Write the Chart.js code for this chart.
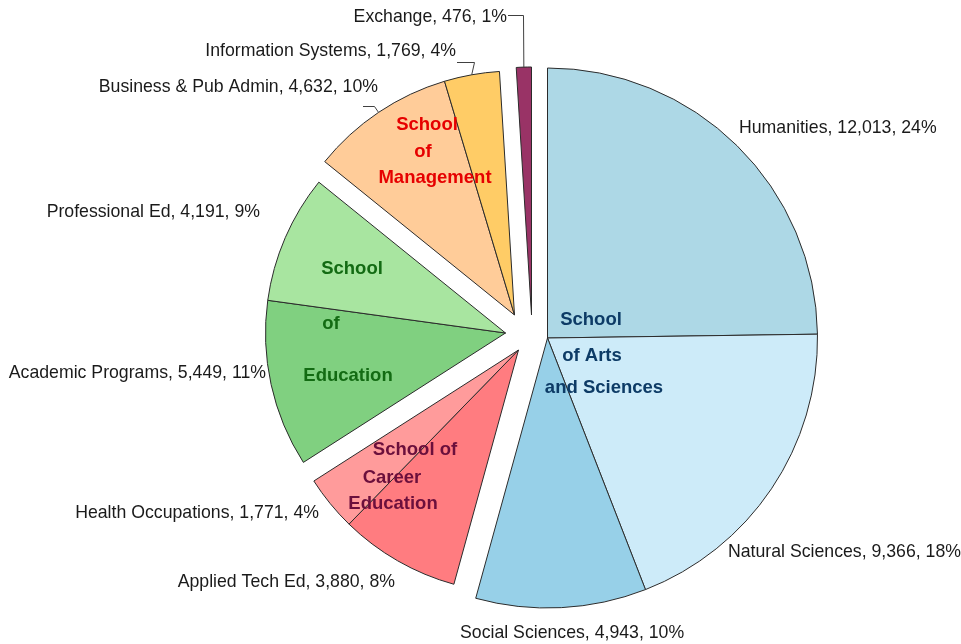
<!DOCTYPE html>
<html>
<head>
<meta charset="utf-8">
<title>Enrollment by School</title>
<script src="https://cdn.jsdelivr.net/npm/chart.js@4.4.1/dist/chart.umd.min.js"></script>
<style>
    html, body { margin: 0; padding: 0; background: #fff; }
    .chart-box { width: 961px; height: 644px; position: relative; }
</style>
</head>
<body>
<div class="chart-box">
    <canvas id="enrollment-pie"></canvas>
</div>
<script>
// data
const categories = ['Humanities', 'Natural Sciences', 'Social Sciences', 'Applied Tech Ed', 'Health Occupations',
    'Academic Programs', 'Professional Ed', 'Business & Pub Admin', 'Information Systems', 'Exchange'];
const enrollment = [12013, 9366, 4943, 3880, 1771, 5449, 4191, 4632, 1769, 476];
const percents = [24, 18, 10, 8, 4, 11, 9, 10, 4, 1];
const schoolOf = [0, 0, 0, 1, 1, 2, 2, 3, 3, 4]; // which school each slice belongs to
const schoolTitles = [
    ['School', 'of Arts', 'and Sciences'],
    ['School of', 'Career', 'Education'],
    ['School', 'of', 'Education'],
    ['School', 'of', 'Management'],
    []
];

const sliceColors = ['#ADD8E6', '#CDEBF9', '#97D0E8', '#FF7C80', '#FF9B9B',
    '#80D080', '#A8E5A0', '#FFCC99', '#FFCC66', '#993366'];
const titleColors = ['#0D3B66', '#6B0F3C', '#136B13', '#E60000', '#000'];

// how far each school's group of slices is pulled out, and its radius
const groupShift = [
    { dx: 0, dy: 0, r: 270 },     // Arts and Sciences
    { dx: -29, dy: 12, r: 243 },  // Career Education
    { dx: -42, dy: -5, r: 240 },  // Education
    { dx: -33, dy: -23, r: 244 }, // Management
    { dx: -16, dy: -23, r: 248 }  // Exchange
];

// slice label placement (anchor x, middle y, alignment)
const labelPlace = [
    { x: 739, y: 128, align: 'left' },
    { x: 728, y: 552, align: 'left' },
    { x: 460, y: 633, align: 'left' },
    { x: 395, y: 582, align: 'right' },
    { x: 319, y: 513, align: 'right' },
    { x: 266, y: 373, align: 'right' },
    { x: 260, y: 212, align: 'right' },
    { x: 378, y: 87, align: 'right' },
    { x: 456, y: 51, align: 'right' },
    { x: 507, y: 17, align: 'right' }
];
// leader lines: start point, then elbow shift relative to the slice edge
const leaders = {
    7: { from: [363, 106], elbow: -5 },
    8: { from: [457, 62], elbow: 2 },
    9: { from: [508, 15], elbow: -1 }
};

// centre of each title line, per school
const titlePlace = [
    [[591, 320], [592, 356], [604, 388]],
    [[415, 450], [392, 478], [393, 504]],
    [[352, 269], [331, 324], [348, 376]],
    [[427, 125], [423, 152], [435, 178]],
    []
];

// move whole school groups out of the pie instead of single slices
const explodeGroups = {
    id: 'explodeGroups',
    afterDatasetsUpdate(chart) {
        const area = chart.chartArea;
        const cx = (area.left + area.right) / 2;
        const cy = (area.top + area.bottom) / 2;
        chart.getDatasetMeta(0).data.forEach((arc, i) => {
            const g = groupShift[schoolOf[i]];
            arc.x = cx + g.dx;
            arc.y = cy + g.dy;
            arc.outerRadius = g.r;
        });
    }
};

const pieLabels = {
    id: 'pieLabels',
    afterDraw(chart) {
        const c = chart.ctx;
        const arcs = chart.getDatasetMeta(0).data;
        c.save();

        // leader lines
        c.strokeStyle = '#404040';
        c.lineWidth = 1;
        Object.keys(leaders).forEach(key => {
            const arc = arcs[key];
            const mid = (arc.startAngle + arc.endAngle) / 2;
            const ex = arc.x + Math.cos(mid) * arc.outerRadius;
            const ey = arc.y + Math.sin(mid) * arc.outerRadius;
            const l = leaders[key];
            c.beginPath();
            c.moveTo(l.from[0], l.from[1] + 0.5);
            c.lineTo(Math.round(ex + l.elbow) + 0.5, l.from[1] + 0.5);
            c.lineTo(ex, ey);
            c.stroke();
        });

        // slice labels
        c.font = '17.7px "Liberation Sans", Arial, sans-serif';
        c.fillStyle = '#1a1a1a';
        c.textBaseline = 'middle';
        categories.forEach((name, i) => {
            const p = labelPlace[i];
            c.textAlign = p.align;
            c.fillText(name + ', ' + enrollment[i].toLocaleString('en-US') + ', ' + percents[i] + '%', p.x, p.y);
        });

        // school titles
        c.font = 'bold 18.5px "Liberation Sans", Arial, sans-serif';
        c.textAlign = 'center';
        schoolTitles.forEach((lines, s) => {
            c.fillStyle = titleColors[s];
            lines.forEach((txt, j) => {
                c.fillText(txt, titlePlace[s][j][0], titlePlace[s][j][1]);
            });
        });
        c.restore();
    }
};

const ctx1 = document.getElementById('enrollment-pie');

new Chart(ctx1, {
    type: 'pie',
    data: {
        labels: categories,
        datasets: [
            {
                data: enrollment,
                backgroundColor: sliceColors,
                borderColor: '#2b2b2b',
                borderWidth: 1,
                radius: 270
            }
        ]
    },
    options: {
        responsive: true,
        maintainAspectRatio: false,
        animation: false,
        layout: {
            padding: { left: 277, right: 143, top: 68, bottom: 36 } // puts the pie centre at 547,338
        },
        plugins: {
            legend: { display: false },
            tooltip: { enabled: false }
        }
    },
    plugins: [explodeGroups, pieLabels]
});
</script>
</body>
</html>
